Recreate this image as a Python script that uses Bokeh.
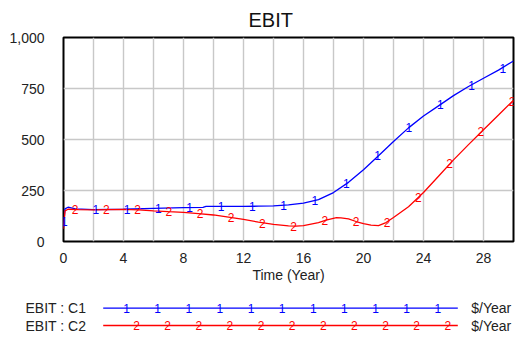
from bokeh.plotting import figure
from bokeh.layouts import column
from bokeh.models import FixedTicker
from bokeh.core.properties import value
from bokeh.embed import file_html
from bokeh.resources import INLINE

# ---- data ----
c1_time = [0, 0.1, 0.3, 0.8, 2, 4, 6, 8, 9.3, 9.5, 12, 13, 14, 15, 16, 17, 18, 19,
           20, 21, 22, 23, 24, 25, 26, 27, 28, 29, 30]
c1_ebit = [70, 160, 168, 160, 156, 158, 162, 166, 167, 172, 172, 173, 175, 180, 188,
           205, 240, 290, 352, 420, 490, 557, 615, 665, 715, 760, 800, 840, 885]

c2_time = [0, 0.1, 0.3, 1, 2, 4, 5, 6, 7, 8, 9, 10, 11, 12, 13, 14, 15, 15.5, 16, 17,
           17.5, 18.2, 18.5, 19, 19.5, 20, 20.5, 21, 21.5, 22, 23, 24, 25, 26, 27, 28,
           29, 30]
c2_ebit = [62, 150, 158, 156, 155, 157, 155, 150, 146, 143, 137, 130, 120, 108, 95,
           84, 77, 75, 78, 92, 105, 117, 116, 111, 98, 88, 80, 78, 93, 118, 170, 240,
           320, 400, 475, 548, 620, 693]

c1_mark_time = [0.06, 2.15, 4.24, 6.33, 8.41, 10.5, 12.59, 14.68, 16.76, 18.85,
                20.94, 23.03, 25.12, 27.2, 29.29]
c1_mark_ebit = [100, 157, 158, 163, 166, 172, 172, 177, 200, 285, 420, 558, 670, 765, 850]

c2_mark_time = [0.78, 2.86, 4.94, 7.02, 9.1, 11.18, 13.26, 15.34, 17.42, 19.5, 21.58,
                23.66, 25.74, 27.82, 29.9]
c2_mark_ebit = [157, 155, 156, 146, 136, 119, 90, 75, 104, 100, 92, 218, 382, 538, 685]

x_ticks = [0, 4, 8, 12, 16, 20, 24, 28]
x_grid = list(range(0, 31, 2))
y_ticks = [0, 250, 500, 750, 1000]
y_labels = {0: "0", 250: "250", 500: "500", 750: "750", 1000: "1,000"}

chart_title = "EBIT"
series_names = ["EBIT : C1", "EBIT : C2"]
series_units = ["$/Year", "$/Year"]
series_colors = ["#0000ff", "#ff0000"]
series_marks = ["1", "2"]

FONT = "Liberation Sans"
TEXT = "#222222"

# ---- main chart ----
p = figure(width=515, height=285, x_range=(0, 30), y_range=(0, 1000),
           output_backend="svg", toolbar_location=None, title=chart_title,
           min_border_left=63, min_border_right=2, min_border_top=37,
           min_border_bottom=40)
p.frame_align = False
p.title.align = "left"
p.title.offset = 185
p.title.standoff = 13
p.title.text_font = FONT
p.title.text_font_size = "20px"
p.title.text_font_style = "normal"
p.title.text_color = "#111111"

p.outline_line_color = "black"
p.outline_line_width = 2
p.background_fill_color = "white"
p.border_fill_color = "white"

for ax in (p.xaxis[0], p.yaxis[0]):
    ax.axis_line_color = None
    ax.major_tick_line_color = None
    ax.minor_tick_line_color = None
    ax.major_label_text_font = FONT
    ax.major_label_text_font_size = "14px"
    ax.major_label_text_color = TEXT

p.xaxis.ticker = FixedTicker(ticks=x_ticks)
p.yaxis.ticker = FixedTicker(ticks=y_ticks)
p.yaxis.major_label_overrides = y_labels
p.xaxis.major_label_standoff = 5
p.yaxis.major_label_standoff = 13
p.xaxis.axis_label = "Time (Year)"
p.xaxis.axis_label_text_font = FONT
p.xaxis.axis_label_text_font_size = "14px"
p.xaxis.axis_label_text_font_style = "normal"
p.xaxis.axis_label_text_color = TEXT
p.xaxis.axis_label_standoff = 1

p.xgrid.ticker = FixedTicker(ticks=x_grid)
p.ygrid.ticker = FixedTicker(ticks=y_ticks)
for g in (p.xgrid[0], p.ygrid[0]):
    g.grid_line_color = "#c8c8c8"
    g.grid_line_width = 1.4

p.line(c1_time, c1_ebit, line_color=series_colors[0], line_width=1.3)
p.line(c2_time, c2_ebit, line_color=series_colors[1], line_width=1.3)

p.text(x=c1_mark_time, y=c1_mark_ebit, text=[series_marks[0]] * len(c1_mark_time),
       text_color=series_colors[0], text_font=value(FONT), text_font_size="12px",
       text_align="center", text_baseline="middle")
p.text(x=c2_mark_time, y=c2_mark_ebit, text=[series_marks[1]] * len(c2_mark_time),
       text_color=series_colors[1], text_font=value(FONT), text_font_size="12px",
       text_align="center", text_baseline="middle")

# ---- legend panel (coordinates in page pixels) ----
leg_row_y = [22.7, 40.0]
leg_line_x = [102.7, 457.3]
leg_mark_x0 = [126.0, 136.0]
leg_mark_step = 31.13
leg_mark_count = 11

lg = figure(width=515, height=52, x_range=(0, 515), y_range=(52, 0),
            output_backend="svg", toolbar_location=None,
            x_axis_location=None, y_axis_location=None,
            min_border=0, min_border_left=0, min_border_right=0,
            min_border_top=0, min_border_bottom=0)
lg.frame_align = False
lg.grid.visible = False
lg.outline_line_color = None
lg.background_fill_color = "white"
lg.border_fill_color = "white"

for i in range(2):
    y = leg_row_y[i]
    lg.line(leg_line_x, [y, y], line_color=series_colors[i], line_width=1.3)
    mx = [leg_mark_x0[i] + k * leg_mark_step for k in range(leg_mark_count)]
    lg.text(x=mx, y=[y] * len(mx), text=[series_marks[i]] * len(mx),
            text_color=series_colors[i], text_font=value(FONT), text_font_size="12px",
            text_align="center", text_baseline="middle")
    lg.text(x=[25], y=[y], text=[series_names[i]], text_color=TEXT,
            text_font=value(FONT), text_font_size="14px",
            text_align="left", text_baseline="middle")
    lg.text(x=[470.7], y=[y], text=[series_units[i]], text_color=TEXT,
            text_font=value(FONT), text_font_size="14px",
            text_align="left", text_baseline="middle")

layout = column(p, lg, spacing=0)
open("out.html", "w").write(file_html(layout, INLINE))
